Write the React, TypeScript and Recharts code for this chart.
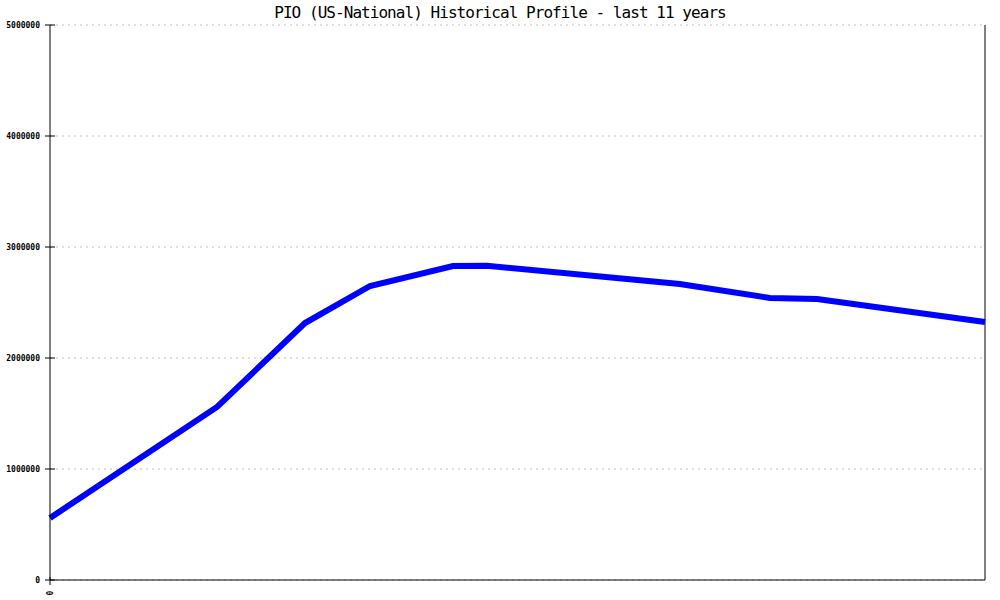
import React from "react";
import { LineChart, Line, XAxis, YAxis, CartesianGrid, ReferenceLine } from "recharts";

// years since start of the period (irregular sample dates)
const years = [0, 1.965, 3.0, 3.765, 4.741, 5.141, 7.41, 8.471, 9.024, 11];
const population = [559000, 1559000, 2315000, 2649000, 2829000, 2830000, 2667000, 2541000, 2532000, 2324000];
const yTicks = [0, 1000000, 2000000, 3000000, 4000000, 5000000];
const xTicks = [0];

const data = years.map((t, i) => ({ t, v: population[i] }));

const mono = "'DejaVu Sans Mono', 'Liberation Mono', monospace";

const YTick = (props: any) => {
  const { x, y, payload } = props;
  return (
    <g>
      <line x1={x - 5} x2={x + 5} y1={y} y2={y} stroke="#000" strokeWidth={1} />
      <text x={x - 10} y={y} dy={3} textAnchor="end" fontSize={8} fontFamily={mono} fontWeight="bold" fill="#000">
        {payload.value}
      </text>
    </g>
  );
};

const XTick = (props: any) => {
  const { x, y, payload } = props;
  return (
    <g>
      <line x1={x} x2={x} y1={y - 3} y2={y + 5} stroke="#000" strokeWidth={1} />
      <text x={x} y={y + 13} dy={3} textAnchor="middle" fontSize={8} fontFamily={mono} fontWeight="bold" fill="#000" transform={`rotate(-90 ${x} ${y + 13})`}>
        {payload.value}
      </text>
    </g>
  );
};

export default function App() {
  return (
    <div style={{ position: "relative", width: 1000, height: 600, background: "#fff" }}>
      <style>{"body{margin:0}"}</style>
      <div style={{ position: "absolute", top: 3, left: 0, width: 1000, textAlign: "center", fontFamily: mono, fontSize: 16, letterSpacing: -0.95, color: "#000", zIndex: 1 }}>
        PIO (US-National) Historical Profile - last 11 years
      </div>
      <LineChart width={1000} height={600} data={data} margin={{ top: 25, right: 15, left: 0, bottom: 0 }}>
        <CartesianGrid horizontal vertical={false} stroke="#c0c0c0" strokeDasharray="2 4" />
        <XAxis
          dataKey="t"
          type="number"
          domain={[0, 11]}
          ticks={xTicks}
          height={20}
          stroke="#000"
          tickLine={false}
          tickSize={0}
          tickMargin={0}
          tick={<XTick />}
        />
        <YAxis
          type="number"
          domain={[0, 5000000]}
          ticks={yTicks}
          width={50}
          stroke="#000"
          tickLine={false}
          tickSize={0}
          tickMargin={0}
          tick={<YTick />}
          interval={0}
        />
        <ReferenceLine x={11} stroke="#000" strokeWidth={1} />
        <Line type="linear" dataKey="v" stroke="#0000ff" strokeWidth={6} dot={false} isAnimationActive={false} />
      </LineChart>
    </div>
  );
}
